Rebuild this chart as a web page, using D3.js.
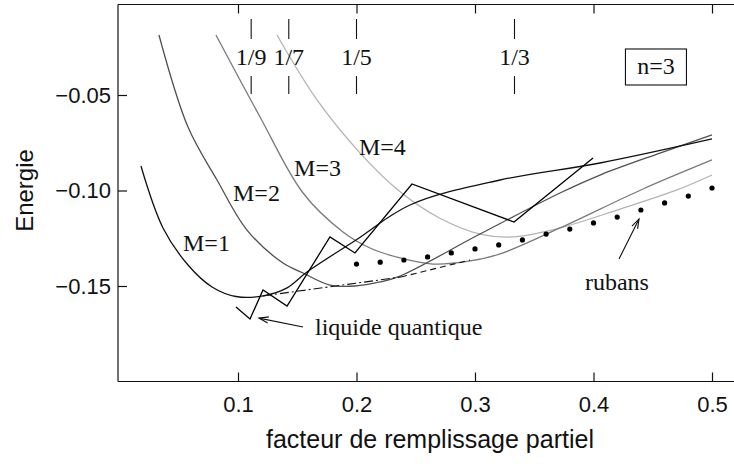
<!DOCTYPE html>
<html><head><meta charset="utf-8">
<script src="https://cdn.jsdelivr.net/npm/d3@7"></script>
<style>
body{margin:0;background:#fff;}
svg{display:block;}
.sans{font-family:"Liberation Sans",Arial,Helvetica,sans-serif;}
.serif{font-family:"Liberation Serif","Times New Roman",Times,serif;}
</style></head>
<body><svg id="c" width="734" height="466"></svg>
<script>
// ---- data ----
const m1X = [0.0181,0.0367,0.0578,0.0781,0.0983,0.1211,0.1414,0.1582,0.1996,0.2451,0.3211,0.4055,0.5];
const m1Y = [-0.0872,-0.1196,-0.1390,-0.1505,-0.1555,-0.1552,-0.1510,-0.1427,-0.1259,-0.1076,-0.0945,-0.0856,-0.0730];
const m2X = [0.0333,0.0578,0.0823,0.1076,0.1380,0.1549,0.1776,0.1987,0.2198,0.2367,0.3042,0.3717,0.4055,0.4561,0.5];
const m2Y = [-0.0186,-0.0668,-0.0945,-0.1207,-0.1380,-0.1432,-0.1495,-0.1500,-0.1479,-0.1448,-0.1228,-0.1013,-0.0919,-0.0804,-0.0709];
const m3X = [0.0814,0.1186,0.1549,0.1886,0.2114,0.2367,0.2646,0.2958,0.3211,0.3717,0.4418,0.5];
const m3Y = [-0.0186,-0.0615,-0.1013,-0.1217,-0.1301,-0.1353,-0.1385,-0.1369,-0.1332,-0.1196,-0.0992,-0.0840];
const m4X = [0.1329,0.1667,0.2030,0.2350,0.2700,0.3042,0.3321,0.3717,0.4224,0.4705,0.5];
const m4Y = [-0.0186,-0.0526,-0.0804,-0.0997,-0.1144,-0.1228,-0.1243,-0.1196,-0.1097,-0.0997,-0.0919];
const liqX = [0.0983,0.1101,0.1211,0.1414,0.1776,0.1987,0.2468,0.3329,0.3996];
const liqY = [-0.1610,-0.1673,-0.1521,-0.1605,-0.1243,-0.1327,-0.0966,-0.1165,-0.0830];
const dashDotX = [0.1211,0.2376];
const dashDotY = [-0.1552,-0.1453];
const dashX = [0.2376,0.2958];
const dashY = [-0.1453,-0.1364];
const rubX = [0.20,0.22,0.24,0.26,0.28,0.30,0.32,0.34,0.36,0.38,0.40,0.42,0.44,0.46,0.48,0.50];
const rubY = [-0.1385,-0.1375,-0.1364,-0.1348,-0.1327,-0.1306,-0.1285,-0.1259,-0.1228,-0.1202,-0.1170,-0.1139,-0.1102,-0.1065,-0.1029,-0.0987];
const xTicks = [0.1,0.2,0.3,0.4,0.5];
const yTicks = [-0.15,-0.10,-0.05];
const fracVals = [1/9,1/7,1/5,1/3];
const fracLabels = ["1/9","1/7","1/5","1/3"];
const curveLabels = ["M=1","M=2","M=3","M=4"];
const curveLabelX = [0.0536,0.0958,0.1473,0.2021];
const curveLabelY = [-0.1317,-0.1053,-0.0924,-0.0814];

// ---- scales ----
const x = d3.scaleLinear().domain([0,0.5]).range([119.5,712]);
const y = d3.scaleLinear().domain([-0.15,-0.05]).range([286,95]);
const X0 = x.invert(118), X1 = x.invert(740);
const Y0 = y.invert(381.5), Y1 = y.invert(4.5);

const svg = d3.select("#c");
const line = d3.line().x(d=>x(d[0])).y(d=>y(d[1]));
const smooth = d3.line().x(d=>x(d[0])).y(d=>y(d[1])).curve(d3.curveCatmullRom.alpha(0.5));
const zip = (a,b)=>a.map((v,i)=>[v,b[i]]);

// frame
const frame = svg.append("g").attr("stroke","#111").attr("stroke-width",1.2).attr("fill","none");
frame.append("line").attr("x1",x(X0)).attr("x2",x(X0)).attr("y1",y(Y0)).attr("y2",y(Y1));
frame.append("line").attr("x1",x(X0)).attr("x2",x(X1)).attr("y1",y(Y0)).attr("y2",y(Y0));
frame.append("line").attr("x1",x(X0)).attr("x2",x(X1)).attr("y1",y(Y1)).attr("y2",y(Y1));

// axes
const fmtX = d3.format(".1f"), fmtY = d3.format(".2f");
const gx = svg.append("g").attr("transform",`translate(0,${y(Y0)})`)
  .call(d3.axisBottom(x).tickValues(xTicks).tickFormat(fmtX).tickSizeInner(-9).tickSizeOuter(0).tickPadding(15));
const gxt = svg.append("g").attr("transform",`translate(0,${y(Y1)})`)
  .call(d3.axisTop(x).tickValues(xTicks).tickFormat("").tickSizeInner(-9).tickSizeOuter(0));
const gy = svg.append("g").attr("transform",`translate(${x(X0)},0)`)
  .call(d3.axisLeft(y).tickValues(yTicks).tickFormat(fmtY).tickSizeInner(-9).tickSizeOuter(0).tickPadding(7));
[gx,gxt,gy].forEach(g=>{
  g.select(".domain").remove();
  g.selectAll(".tick line").attr("stroke","#111").attr("stroke-width",1.2);
  g.selectAll("text").attr("class","sans").attr("font-size",22).attr("fill","#111");
});

svg.append("text").attr("class","sans").attr("font-size",25).attr("fill","#111")
  .attr("text-anchor","middle").attr("x",430).attr("y",448)
  .text("facteur de remplissage partiel");
svg.append("text").attr("class","sans").attr("font-size",24).attr("fill","#111")
  .attr("text-anchor","middle").attr("transform",`translate(33,${y(-0.1)}) rotate(-90)`)
  .text("Energie");

// curves
const curves = [
  {x:m4X,y:m4Y,c:"#b3b3b3",g:smooth},
  {x:m3X,y:m3Y,c:"#7a7a7a",g:smooth},
  {x:m2X,y:m2Y,c:"#505050",g:smooth},
  {x:m1X,y:m1Y,c:"#111",g:smooth},
  {x:liqX,y:liqY,c:"#000",g:line}
];
curves.forEach(cv=>{
  svg.append("path").attr("d",cv.g(zip(cv.x,cv.y))).attr("fill","none")
    .attr("stroke",cv.c).attr("stroke-width",1.3).attr("stroke-linejoin","miter");
});
svg.append("path").attr("d",line(zip(dashDotX,dashDotY))).attr("fill","none")
  .attr("stroke","#111").attr("stroke-width",1.1).attr("stroke-dasharray","9,3,2,3");
svg.append("path").attr("d",line(zip(dashX,dashY))).attr("fill","none")
  .attr("stroke","#111").attr("stroke-width",1.1).attr("stroke-dasharray","6,4");

// dots
svg.append("g").selectAll("circle").data(zip(rubX,rubY)).join("circle")
  .attr("cx",d=>x(d[0])).attr("cy",d=>y(d[1])).attr("r",2.6).attr("fill","#000");

// fraction markers
const fr = svg.append("g");
fracVals.forEach((v,i)=>{
  fr.append("line").attr("x1",x(v)).attr("x2",x(v)).attr("y1",y(-0.0102)).attr("y2",y(-0.0207)).attr("stroke","#111").attr("stroke-width",1.1);
  fr.append("line").attr("x1",x(v)).attr("x2",x(v)).attr("y1",y(-0.0401)).attr("y2",y(-0.0495)).attr("stroke","#111").attr("stroke-width",1.1);
  fr.append("text").attr("class","serif").attr("font-size",24).attr("text-anchor","middle")
    .attr("x",x(v)).attr("y",y(-0.0343)).attr("fill","#111").text(fracLabels[i]);
});

// curve labels
curveLabels.forEach((t,i)=>{
  svg.append("text").attr("class","serif").attr("font-size",24).attr("fill","#111")
    .attr("x",x(curveLabelX[i])).attr("y",y(curveLabelY[i])).text(t);
});

// n=3 box
svg.append("rect").attr("x",x(0.4527)-30.5).attr("y",y(-0.0390)-25).attr("width",61).attr("height",36)
  .attr("fill","none").attr("stroke","#111").attr("stroke-width",1.1);
svg.append("text").attr("class","serif").attr("font-size",24).attr("fill","#111").attr("text-anchor","middle")
  .attr("x",x(0.4527)).attr("y",y(-0.0390)).text("n=3");

// annotations with arrows
function arrow(x1,y1,x2,y2){
  const a=x(x1),b=y(y1),c=x(x2),d=y(y2);
  const ang=Math.atan2(d-b,c-a), L=10, w=0.32;
  svg.append("line").attr("x1",a).attr("y1",b).attr("x2",c).attr("y2",d).attr("stroke","#111").attr("stroke-width",1.1);
  const p1=[c-L*Math.cos(ang-w),d-L*Math.sin(ang-w)], p2=[c-L*Math.cos(ang+w),d-L*Math.sin(ang+w)];
  svg.append("path").attr("d",`M${p1}L${c},${d}L${p2}`).attr("fill","none").attr("stroke","#111").attr("stroke-width",1.1);
}
arrow(0.1549,-0.1715,0.1177,-0.1668);
arrow(0.4215,-0.1359,0.4384,-0.1149);
svg.append("text").attr("class","serif").attr("font-size",24).attr("fill","#111")
  .attr("x",x(0.1650)).attr("y",y(-0.1757)).text("liquide quantique");
svg.append("text").attr("class","serif").attr("font-size",24).attr("fill","#111")
  .attr("x",x(0.3928)).attr("y",y(-0.1521)).text("rubans");
</script></body></html>
